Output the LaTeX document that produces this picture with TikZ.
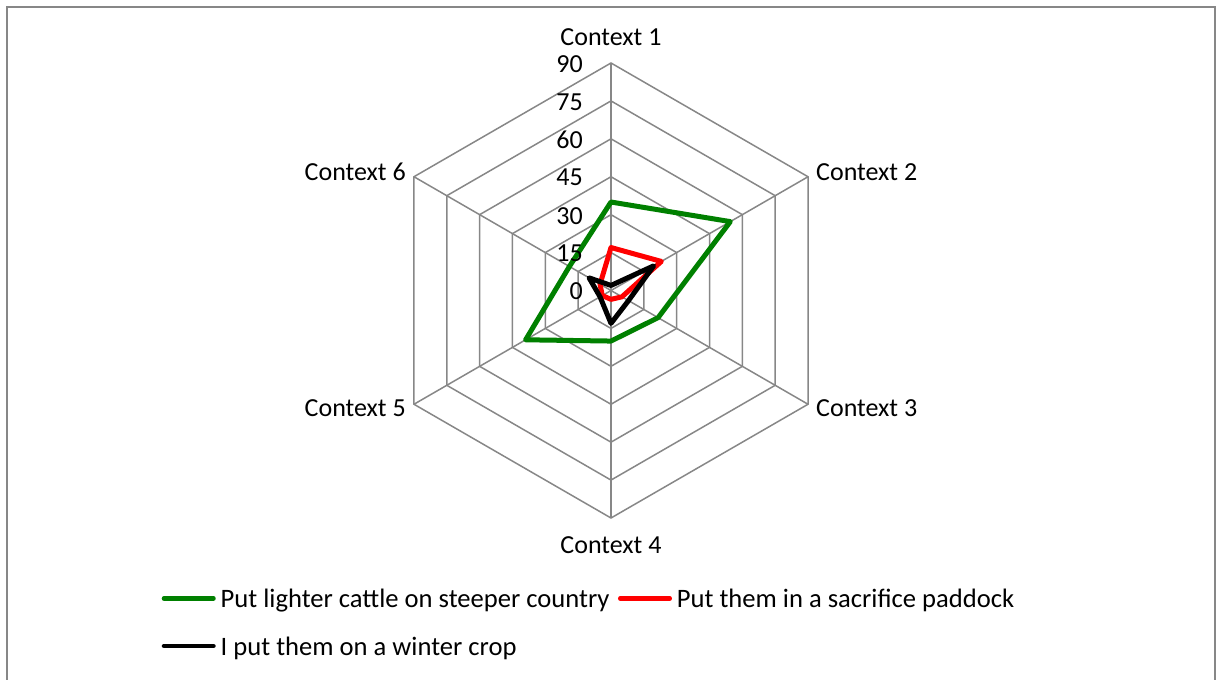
\documentclass[tikz,border=0pt]{standalone}
\usepackage{fontspec}
\setmainfont{Carlito}
\usetikzlibrary{positioning}

\tikzset{
  grid line/.style={draw=black!47, line width=1.5pt},
  series/.style={line width=5pt, line join=round, line cap=round},
  cattle/.style={draw=green!50!black},
  paddock/.style={draw=red},
  crop/.style={draw=black},
  chart text/.style={font=\fontsize{26}{31}\selectfont, inner sep=0pt},
  key text/.style={font=\fontsize{26.6}{31}\selectfont, inner sep=0pt, yshift=-2pt},
}

\begin{document}
\begin{tikzpicture}[x=1pt, y=1pt]
  \useasboundingbox (-611,-389.5) rectangle (605,290.5);
  \draw[black!47, line width=2pt] (-604,-400) -- (-604,283.5) -- (604,283.5) -- (604,-400);

  \begin{scope}[scale=2.5278]
    \foreach \r in {15,30,...,90}
      \draw[grid line] (90:\r) -- (30:\r) -- (-30:\r) -- (-90:\r) -- (-150:\r) -- (150:\r) -- cycle;
    \foreach \a in {90,30,-30,-90,-150,150}
      \draw[grid line] (0,0) -- (\a:90);
    % the three answers
    \draw[series, cattle] (90:35) -- (30:54.5) -- (-30:21.5) -- (-90:20) -- (-150:39) -- (150:19) -- cycle;
    \draw[series, paddock] (90:17) -- (30:23) -- (-30:5) -- (-90:3.5) -- (-150:4) -- (150:5) -- cycle;
    \draw[series, crop] (90:2) -- (30:19.5) -- (-30:8) -- (-90:13) -- (-150:5) -- (150:10) -- cycle;
  \end{scope}

  \foreach \v [count=\i from 0] in {0,15,...,90}
    \node[chart text, anchor=east] (tick\v) at (-28, \i*37.92-1) {\v};

  \node[chart text] (ctx1) at (0,253.5) {Context 1};
  \node[chart text, anchor=west] (ctx2) at (205,118.5) {Context 2};
  \node[chart text, anchor=west] (ctx3) at (205,-117.5) {Context 3};
  \node[chart text] (ctx4) at (0,-254.5) {Context 4};
  \node[chart text, anchor=east] (ctx5) at (-205,-117.5) {Context 5};
  \node[chart text, anchor=east] (ctx6) at (-205,118.5) {Context 6};

  % legend
  \coordinate (cattle start) at (-447,-308);
  \coordinate (cattle end) at (-397.5,-308);
  \draw[series, line width=4.5pt, cattle] (cattle start) -- (cattle end);
  \node[key text, anchor=west, right=7pt of cattle end] (cattle key) {Put lighter cattle on steeper country};
  \coordinate (paddock start) at (9.25,-308);
  \coordinate (paddock end) at (58.75,-308);
  \draw[series, line width=4.5pt, paddock] (paddock start) -- (paddock end);
  \node[key text, anchor=west, right=7pt of paddock end] (paddock key) {Put them in a sacrifice paddock};
  \coordinate (crop start) at (-447,-355.5);
  \coordinate (crop end) at (-397.5,-355.5);
  \draw[series, line width=4.5pt, crop] (crop start) -- (crop end);
  \node[key text, anchor=west, right=7pt of crop end] (crop key) {I put them on a winter crop};
\end{tikzpicture}
\end{document}
